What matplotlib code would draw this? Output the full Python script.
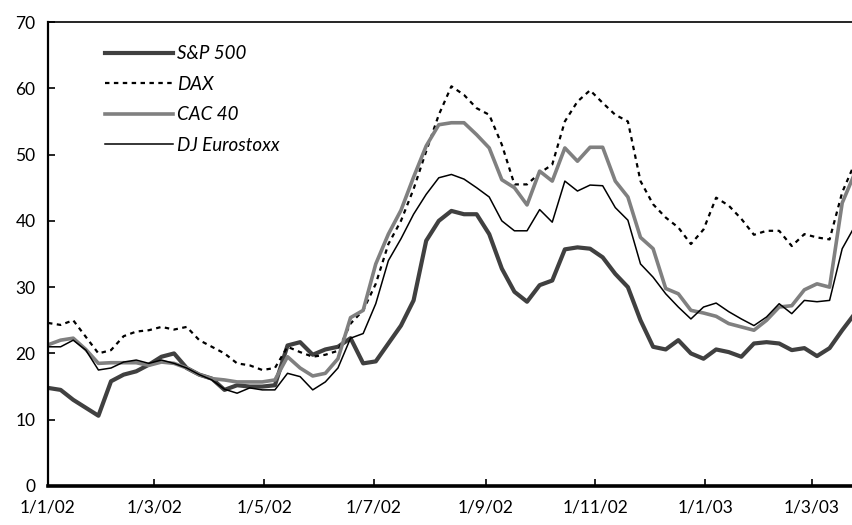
import matplotlib
matplotlib.use("Agg")
import matplotlib.pyplot as plt
import matplotlib.dates as mdates
import pandas as pd
import numpy as np

plt.rcParams['font.family'] = ['Lato', 'DejaVu Sans']

# weekly observation dates
dates = pd.date_range('2002-01-01', periods=65, freq='7D')

sp500 = [14.8, 14.5, 13.0, 11.8, 10.6, 15.8, 16.8, 17.3, 18.3, 19.5,
         20.0, 17.8, 16.8, 16.2, 14.5, 15.2, 15.0, 15.0, 15.2, 21.2,
         21.7, 19.8, 20.6, 21.0, 22.3, 18.5, 18.8, 21.5, 24.2, 28.0,
         37.0, 40.0, 41.5, 41.0, 41.0, 38.0, 32.8, 29.3, 27.8, 30.3,
         31.0, 35.7, 36.0, 35.8, 34.5, 32.0, 30.0, 25.0, 21.0, 20.6,
         22.0, 20.0, 19.2, 20.6, 20.2, 19.5, 21.5, 21.7, 21.5, 20.5,
         20.8, 19.6, 20.8, 23.5, 26.0]

dax = [24.6, 24.3, 25.0, 22.5, 20.0, 20.5, 22.6, 23.3, 23.5, 24.0,
       23.6, 24.0, 22.0, 21.0, 20.0, 18.5, 18.2, 17.5, 17.8, 21.0,
       20.2, 19.5, 19.8, 20.4, 24.5, 26.5, 30.5, 36.5, 40.0, 44.8,
       50.5, 56.0, 60.3, 59.0, 57.0, 56.0, 51.5, 45.5, 45.5, 47.2,
       48.5, 55.0, 58.0, 59.7, 57.8, 56.0, 55.0, 46.0, 42.5, 40.5,
       39.0, 36.5, 38.7, 43.5, 42.3, 40.3, 37.9, 38.5, 38.5, 36.2,
       38.0, 37.5, 37.2, 44.3, 48.7]

cac40 = [21.3, 22.0, 22.3, 20.6, 18.5, 18.6, 18.6, 18.6, 18.2, 18.7,
         18.5, 17.8, 16.8, 16.2, 16.0, 15.7, 15.7, 15.7, 16.0, 19.5,
         17.8, 16.6, 17.0, 19.2, 25.4, 26.5, 33.5, 38.0, 41.6, 46.6,
         51.3, 54.5, 54.8, 54.8, 53.0, 51.0, 46.2, 45.0, 42.4, 47.5,
         46.0, 51.0, 49.0, 51.1, 51.1, 46.0, 43.6, 37.5, 35.8, 29.8,
         29.0, 26.5, 26.1, 25.6, 24.5, 24.0, 23.5, 25.0, 27.0, 27.2,
         29.6, 30.5, 30.0, 42.7, 47.2]

eurostoxx = [21.0, 21.0, 22.0, 20.5, 17.5, 17.8, 18.7, 19.0, 18.5, 19.0,
             18.5, 17.8, 16.8, 16.0, 14.6, 14.0, 14.8, 14.5, 14.5, 17.0,
             16.5, 14.5, 15.7, 17.8, 22.3, 23.0, 27.5, 34.0, 37.3, 41.0,
             44.0, 46.5, 47.0, 46.3, 45.0, 43.6, 40.0, 38.5, 38.5, 41.7,
             39.8, 46.0, 44.5, 45.4, 45.3, 42.0, 40.1, 33.5, 31.5, 29.0,
             27.0, 25.2, 27.0, 27.6, 26.3, 25.2, 24.2, 25.5, 27.5, 26.0,
             28.0, 27.8, 28.0, 35.8, 39.2]

series_names = ['S&P 500', 'DAX', 'CAC 40', 'DJ Eurostoxx']

tick_dates = pd.to_datetime(['2002-01-01', '2002-03-01', '2002-05-01', '2002-07-01',
                             '2002-09-01', '2002-11-01', '2003-01-01', '2003-03-01'])
tick_labels = ['1/1/02', '1/3/02', '1/5/02', '1/7/02',
               '1/9/02', '1/11/02', '1/1/03', '1/3/03']
y_ticks = [0, 10, 20, 30, 40, 50, 60, 70]

fig = plt.figure(figsize=(8.53, 5.25), dpi=100)
ax = fig.add_axes([48/853, 39/525, 805/853, 464/525])

ax.plot(dates, sp500, color='#404040', lw=3.0, label=series_names[0])
ax.plot(dates, dax, color='black', lw=1.6, ls=(0, (2, 2)), label=series_names[1])
ax.plot(dates, cac40, color='#808080', lw=2.6, label=series_names[2])
ax.plot(dates, eurostoxx, color='black', lw=1.1, label=series_names[3])

ax.set_xlim(pd.Timestamp('2002-01-01'), pd.Timestamp('2003-03-24'))
ax.set_ylim(0, 70)
ax.set_yticks(y_ticks)
ax.set_yticklabels([str(v) for v in y_ticks])
ax.set_xticks(tick_dates)
ax.set_xticklabels(tick_labels)

ax.tick_params(axis='both', direction='in', length=5, width=1.2, labelsize=12.5, colors='black')
ax.tick_params(axis='x', pad=10)
ax.tick_params(axis='y', pad=9)

ax.spines['right'].set_visible(False)
ax.spines['left'].set_linewidth(1.6)
ax.spines['bottom'].set_linewidth(2.6)
ax.spines['top'].set_linewidth(1.2)

leg = ax.legend(loc='upper left', bbox_to_anchor=(0.071, 0.95), frameon=False,
                borderaxespad=0, borderpad=0, handlelength=3.6, handletextpad=0.25,
                labelspacing=0.72, prop={'style': 'italic', 'size': 13.5})

fig.savefig('out.png', dpi=100)
